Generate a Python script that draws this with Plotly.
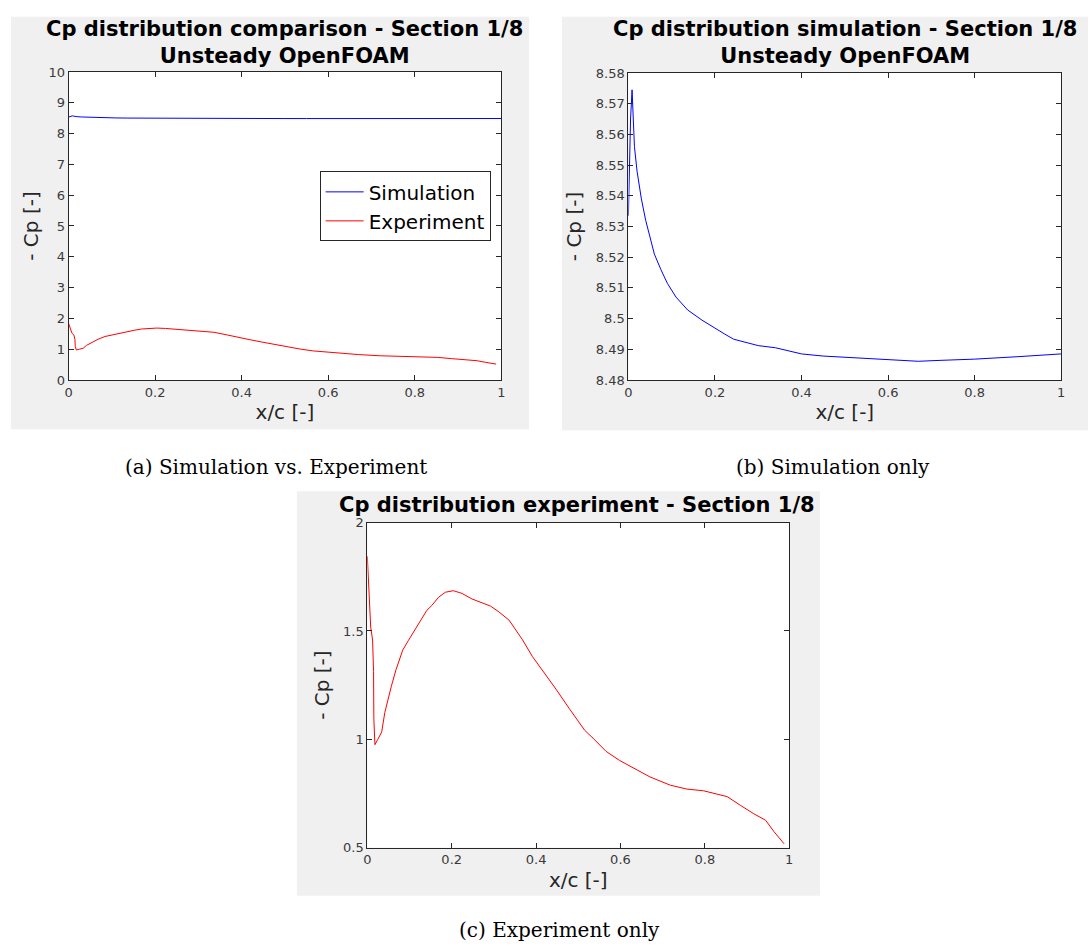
import plotly.graph_objects as go

W, H = 1092, 950

# ---------------- data ----------------
x_sim = [0, 0.0015, 0.003, 0.005, 0.0085, 0.011, 0.014, 0.02, 0.03, 0.04, 0.05,
         0.06, 0.075, 0.09, 0.11, 0.137, 0.17, 0.2, 0.222, 0.243, 0.27, 0.3,
         0.34, 0.37, 0.4, 0.45, 0.5, 0.55, 0.6, 0.67, 0.72, 0.8, 0.9, 1.0]
cp_sim = [8.5335, 8.5415, 8.555, 8.565, 8.5745, 8.568, 8.556, 8.548, 8.539, 8.532,
          8.526, 8.521, 8.516, 8.5115, 8.507, 8.5028, 8.4995, 8.4968, 8.495,
          8.4933, 8.4922, 8.4912, 8.4905, 8.4896, 8.4885, 8.4878, 8.4874, 8.4870,
          8.4866, 8.4861, 8.4864, 8.4868, 8.4876, 8.4885]

x_exp = [0.0, 0.004, 0.008, 0.0125, 0.0148, 0.0155, 0.018, 0.025, 0.034, 0.0415,
         0.049, 0.057, 0.068, 0.084, 0.097, 0.121, 0.141, 0.153, 0.169, 0.185,
         0.204, 0.224, 0.248, 0.292, 0.312, 0.336, 0.368, 0.391, 0.419, 0.447,
         0.479, 0.515, 0.535, 0.566, 0.598, 0.622, 0.67, 0.718, 0.757, 0.797,
         0.829, 0.853, 0.885, 0.916, 0.944, 0.964, 0.988]
cp_exp = [1.845, 1.67, 1.518, 1.458, 1.313, 1.094, 0.975, 1.0, 1.033, 1.124,
          1.185, 1.245, 1.321, 1.412, 1.455, 1.535, 1.595, 1.618, 1.656, 1.679,
          1.686, 1.674, 1.648, 1.615, 1.588, 1.55, 1.459, 1.383, 1.308, 1.232,
          1.141, 1.042, 1.005, 0.944, 0.902, 0.876, 0.826, 0.788, 0.770, 0.762,
          0.747, 0.735, 0.694, 0.656, 0.626, 0.573, 0.517]

x_ticks = [0, 0.2, 0.4, 0.6, 0.8, 1]
x_ticktext = ["0", "0.2", "0.4", "0.6", "0.8", "1"]
ya_ticks = [0, 1, 2, 3, 4, 5, 6, 7, 8, 9, 10]
ya_ticktext = ["0", "1", "2", "3", "4", "5", "6", "7", "8", "9", "10"]
yb_ticks = [8.48, 8.49, 8.50, 8.51, 8.52, 8.53, 8.54, 8.55, 8.56, 8.57, 8.58]
yb_ticktext = ["8.48", "8.49", "8.5", "8.51", "8.52", "8.53", "8.54", "8.55",
               "8.56", "8.57", "8.58"]
yc_ticks = [0.5, 1, 1.5, 2]
yc_ticktext = ["0.5", "1", "1.5", "2"]

title_a = "Cp distribution comparison - Section 1/8<br>Unsteady OpenFOAM"
title_b = "Cp distribution simulation - Section 1/8<br>Unsteady OpenFOAM"
title_c = "Cp distribution experiment - Section 1/8"
cap_a = "(a) Simulation vs. Experiment"
cap_b = "(b) Simulation only"
cap_c = "(c) Experiment only"

# ---------------- helpers ----------------
def px(x):
    return x / W

def py(y):
    return 1 - y / H

AX = "#262626"
TICKC = "#3a3a3a"
tickfont = dict(family="DejaVu Sans", size=13, color=TICKC)
labfont = dict(family="DejaVu Sans", size=20, color=AX)


def xax(x0, x1, anchor):
    return dict(domain=[px(x0), px(x1)], range=[0, 1], anchor=anchor,
                tickvals=x_ticks, ticktext=x_ticktext, ticks="inside", ticklen=5,
                tickcolor=AX, showline=True, linecolor=AX, linewidth=1,
                mirror="ticks", showgrid=False, zeroline=False, tickfont=tickfont,
                title=dict(text="x/c [-]", font=labfont, standoff=6))


def yax(y0, y1, anchor, rng, tv, tt, standoff=8):
    return dict(domain=[py(y1), py(y0)], range=rng, anchor=anchor,
                tickvals=tv, ticktext=tt, ticks="inside", ticklen=5,
                tickcolor=AX, showline=True, linecolor=AX, linewidth=1,
                mirror="ticks", showgrid=False, zeroline=False, tickfont=tickfont,
                title=dict(text="- Cp [-]", font=labfont, standoff=standoff))


fig = go.Figure()

fig.add_trace(go.Scatter(x=x_sim, y=cp_sim, mode="lines", name="Simulation",
                         line=dict(color="#0000ff", width=1), xaxis="x", yaxis="y"))
fig.add_trace(go.Scatter(x=x_exp, y=cp_exp, mode="lines", name="Experiment",
                         line=dict(color="#ff0000", width=1), xaxis="x", yaxis="y"))
fig.add_trace(go.Scatter(x=x_sim, y=cp_sim, mode="lines", showlegend=False,
                         line=dict(color="#0000ff", width=1), xaxis="x2", yaxis="y2"))
fig.add_trace(go.Scatter(x=x_exp, y=cp_exp, mode="lines", showlegend=False,
                         line=dict(color="#ff0000", width=1), xaxis="x3", yaxis="y3"))

grey = "#f0f0f0"
shapes = []
for (x0, y0, x1, y1) in [(7, 10, 529, 429), (562, 10, 1092, 430), (295, 492, 822, 903)]:
    shapes.append(dict(type="rect", xref="paper", yref="paper",
                       x0=px(x0), x1=px(x1), y0=py(y1), y1=py(y0),
                       fillcolor=grey, line=dict(width=0), layer="below"))
# white plotting areas
for (x0, y0, x1, y1) in [(65, 66, 501, 379), (629, 67, 1065, 379), (366, 524, 791, 854)]:
    shapes.append(dict(type="rect", xref="paper", yref="paper",
                       x0=px(x0), x1=px(x1), y0=py(y1), y1=py(y0),
                       fillcolor="#ffffff", line=dict(width=0), layer="below"))

titlefont = dict(family="DejaVu Sans", size=21, color="#000000", weight="bold")
capfont = dict(family="DejaVu Serif", size=20, color="#000000")
annotations = [
    dict(text="<b>" + title_a.replace("<br>", "</b><br><b>") + "</b>", x=px(283), y=py(36),
         xref="paper", yref="paper", showarrow=False, font=titlefont,
         xanchor="center", yanchor="middle"),
    dict(text="<b>" + title_b.replace("<br>", "</b><br><b>") + "</b>", x=px(847), y=py(36),
         xref="paper", yref="paper", showarrow=False, font=titlefont,
         xanchor="center", yanchor="middle"),
    dict(text="<b>" + title_c + "</b>", x=px(577), y=py(506),
         xref="paper", yref="paper", showarrow=False, font=titlefont,
         xanchor="center", yanchor="middle"),
    dict(text=cap_a, x=px(274), y=py(467), xref="paper", yref="paper",
         showarrow=False, font=capfont, xanchor="center", yanchor="middle"),
    dict(text=cap_b, x=px(835), y=py(467), xref="paper", yref="paper",
         showarrow=False, font=capfont, xanchor="center", yanchor="middle"),
    dict(text=cap_c, x=px(560), y=py(938), xref="paper", yref="paper",
         showarrow=False, font=capfont, xanchor="center", yanchor="middle"),
]

fig.update_layout(
    width=W, height=H,
    margin=dict(l=0, r=0, t=0, b=0),
    paper_bgcolor="#ffffff", plot_bgcolor="rgba(0,0,0,0)",
    xaxis=xax(65, 501, "y"),
    yaxis=yax(66, 379, "x", [0, 10], ya_ticks, ya_ticktext, standoff=4),
    xaxis2=xax(629, 1065, "y2"),
    yaxis2=yax(67, 379, "x2", [8.48, 8.58], yb_ticks, yb_ticktext),
    xaxis3=xax(366, 791, "y3"),
    yaxis3=yax(524, 854, "x3", [0.5, 2], yc_ticks, yc_ticktext),
    shapes=shapes,
    annotations=annotations,
    showlegend=True,
    legend=dict(x=px(318), y=py(167), xanchor="left", yanchor="top",
                bgcolor="#ffffff", bordercolor=AX, borderwidth=1,
                font=dict(family="DejaVu Sans", size=20, color="#000000"),
                tracegroupgap=0, itemwidth=38),
)

fig.write_html(
    "out.html",
    config={"displayModeBar": False},
    post_script="document.documentElement.style.margin='0';"
                "document.body.style.margin='0';document.body.style.padding='0';"
                "document.body.style.overflow='hidden';",
)
